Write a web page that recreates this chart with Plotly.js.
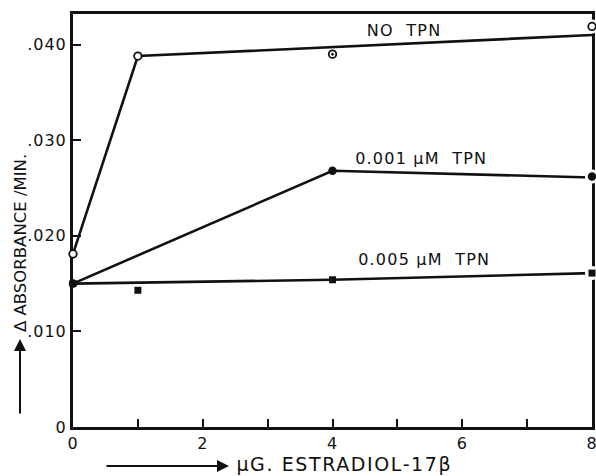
<!DOCTYPE html>
<html>
<head>
<meta charset="utf-8">
<script src="https://cdn.plot.ly/plotly-3.0.1.min.js"></script>
<style>
  html, body { margin: 0; padding: 0; background: #fff; }
  #chart { width: 596px; height: 476px; }
  /* wide, typewriter-like lettering for the drawn labels */
  #chart .annotation-text { letter-spacing: 1.2px; }
  #chart .annotation[data-index="3"] .annotation-text { letter-spacing: 1.6px; }
  #chart .annotation[data-index="5"] .annotation-text { letter-spacing: 0; }
  #chart .xtick text, #chart .ytick text { letter-spacing: 1px; }
</style>
</head>
<body>
<div id="chart"></div>
<script>
// Estradiol-17β dose (µg) vs. change in absorbance per minute
const noTpnX = [0, 1, 4, 8];
const noTpnY = [0.0181, 0.0388, 0.0390, 0.0419];
const noTpnLineX = [0, 1, 8];
const noTpnLineY = [0.0181, 0.0388, 0.0410];

const tpn001X = [0, 4, 8];
const tpn001Y = [0.0150, 0.0268, 0.0262];
const tpn001LineX = [0, 4, 8];
const tpn001LineY = [0.0150, 0.0268, 0.0261];

const tpn005X = [0, 1, 4, 8];
const tpn005Y = [0.0150, 0.0143, 0.0154, 0.0161];
const tpn005LineX = [0, 4, 8];
const tpn005LineY = [0.0150, 0.0154, 0.0161];

const xTickVals = [0, 1, 2, 3, 4, 5, 6, 7, 8];
const xTickText = ['0', '', '2', '', '4', '', '6', '', '8'];
const yTickVals = [0, 0.010, 0.020, 0.030, 0.040];
const yTickText = ['0', '.010', '.020', '.030', '.040'];

const seriesLabels = ['NO\u00a0\u00a0TPN', '0.001 \u03bcM\u00a0\u00a0TPN', '0.005 \u03bcM\u00a0\u00a0TPN'];
const xTitle = '\u03bcG. ESTRADIOL-17\u03b2';
const yTitle = '\u0394 ABSORBANCE /MIN.';

const ink = '#111';
const font = 'DejaVu Sans, sans-serif';

function line(x, y) {
  return { x, y, mode: 'lines', line: { color: ink, width: 2.6 }, hoverinfo: 'skip', cliponaxis: false };
}
function last(arr) { return arr[arr.length - 1]; }

// white halos where the points sit on the right frame
const haloX = [last(noTpnX), last(tpn001X), last(tpn005X)];
const haloY = [last(noTpnY), last(tpn001Y), last(tpn005Y)];

const traces = [
  line(noTpnLineX, noTpnLineY),
  line(tpn001LineX, tpn001LineY),
  line(tpn005LineX, tpn005LineY),
  { x: haloX, y: haloY, mode: 'markers', cliponaxis: false, hoverinfo: 'skip',
    marker: { color: '#fff', size: 14, symbol: 'circle', line: { width: 0 } } },
  { x: tpn005X, y: tpn005Y, mode: 'markers', cliponaxis: false,
    marker: { color: ink, size: 7, symbol: 'square', line: { width: 0 } } },
  { x: tpn001X, y: tpn001Y, mode: 'markers', cliponaxis: false,
    marker: { color: ink, size: 8.5, symbol: 'circle', line: { width: 0 } } },
  { x: noTpnX, y: noTpnY, mode: 'markers', cliponaxis: false,
    marker: { color: '#fff', size: 7.5, symbol: ['circle', 'circle', 'circle-dot', 'circle'],
              line: { color: ink, width: 1.8 } } }
];

const axisCommon = {
  showgrid: false, zeroline: false, showline: true, linecolor: ink, linewidth: 3,
  mirror: true, ticks: 'inside', ticklen: 8, tickwidth: 2, tickcolor: ink,
  layer: 'below traces', ticklabeloverflow: 'allow',
  tickfont: { family: font, size: 16, color: ink }
};

const labelFont = { family: font, size: 16, color: ink };

const layout = {
  width: 596, height: 476,
  margin: { l: 73, r: 4, t: 14, b: 49 },
  paper_bgcolor: '#fff', plot_bgcolor: '#fff',
  showlegend: false,
  xaxis: Object.assign({}, axisCommon, {
    range: [0, 8], tickmode: 'array', tickvals: xTickVals, ticktext: xTickText
  }),
  yaxis: Object.assign({}, axisCommon, {
    range: [0, 0.0432], tickmode: 'array', tickvals: yTickVals, ticktext: yTickText
  }),
  annotations: [
    { xref: 'paper', yref: 'paper', x: (369 - 73) / 519, y: (427 - 31) / 413,
      xanchor: 'left', yanchor: 'middle', showarrow: false, text: seriesLabels[0], font: labelFont },
    { xref: 'paper', yref: 'paper', x: (361 - 73) / 519, y: (427 - 158) / 413,
      xanchor: 'left', yanchor: 'middle', showarrow: false, text: seriesLabels[1], font: labelFont },
    { xref: 'paper', yref: 'paper', x: (364 - 73) / 519, y: (427 - 259) / 413,
      xanchor: 'left', yanchor: 'middle', showarrow: false, text: seriesLabels[2], font: labelFont },
    // x-axis title with its arrow
    { xref: 'paper', yref: 'paper', x: (248 - 73) / 519, y: (427 - 464) / 413,
      xanchor: 'left', yanchor: 'middle', showarrow: false, text: xTitle,
      font: { family: font, size: 19, color: ink } },
    { xref: 'paper', yref: 'paper', x: (229 - 73) / 519, y: (427 - 466) / 413,
      text: '', showarrow: true, arrowhead: 2, arrowsize: 1.2, arrowwidth: 2,
      arrowcolor: ink, ax: -124, ay: 0 },
    // y-axis title with its arrow
    { xref: 'paper', yref: 'paper', x: (20 - 73) / 519, y: (427 - 243) / 413,
      xanchor: 'center', yanchor: 'middle', showarrow: false, text: yTitle, textangle: -90,
      font: { family: font, size: 16.5, color: ink } },
    { xref: 'paper', yref: 'paper', x: (20 - 73) / 519, y: (427 - 339) / 413,
      text: '', showarrow: true, arrowhead: 2, arrowsize: 1.2, arrowwidth: 2,
      arrowcolor: ink, ax: 0, ay: 76 }
  ]
};

Plotly.newPlot('chart', traces, layout, { staticPlot: true, displayModeBar: false });
</script>
</body>
</html>
